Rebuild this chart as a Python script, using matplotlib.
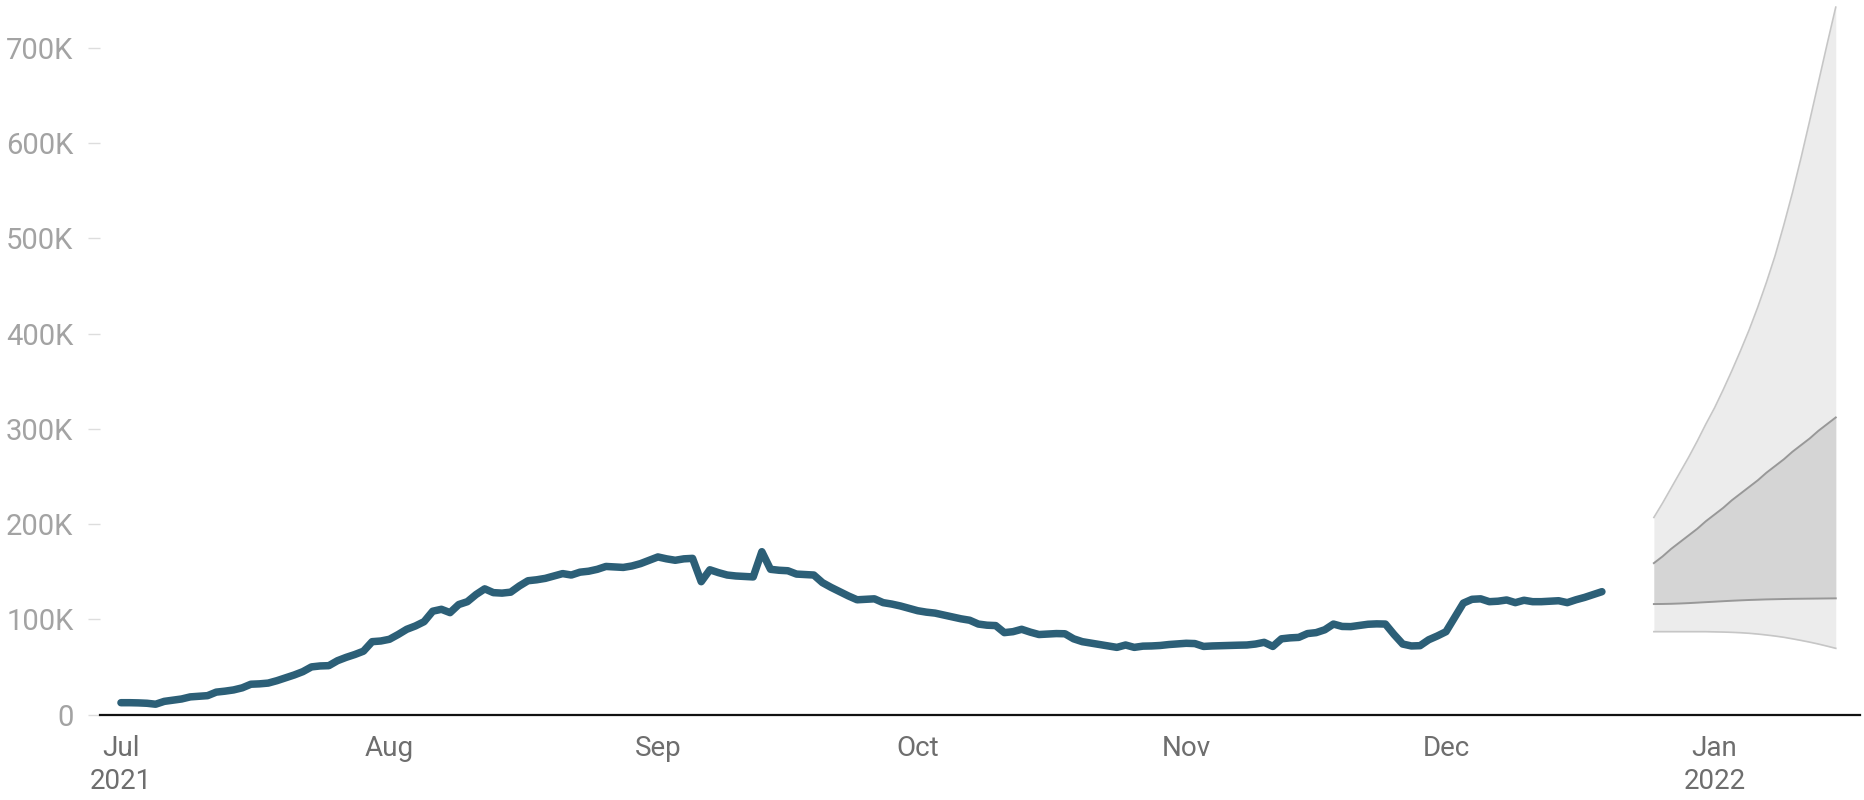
import numpy as np
import pandas as pd
import matplotlib
matplotlib.use("Agg")
import matplotlib.pyplot as plt
import matplotlib.dates as mdates

plt.rcParams['font.family'] = ['Roboto', 'DejaVu Sans']

# ---- data (values in thousands) ----
start_date = "2021-07-01"
cases = [
    12.4, 12.4, 12.2, 11.8, 10.8, 13.8, 15.0, 16.3, 18.5, 19.2,
    19.8, 23.5, 24.5, 25.8, 28.0, 31.8, 32.2, 33.0, 35.5, 38.5,
    41.5, 45.0, 50.0, 51.0, 51.3, 56.5, 60.0, 63.0, 66.5, 76.5,
    77.2, 79.0, 84.0, 89.5, 93.0, 97.5, 108.5, 110.5, 107.0, 115.5,
    118.5, 126.0, 132.0, 128.0, 127.5, 128.5, 135.0, 140.5, 141.5, 143.0,
    145.5, 148.0, 146.5, 149.5, 150.5, 152.5, 155.5, 155.0, 154.5, 156.0,
    158.5, 162.0, 165.5, 163.5, 162.0, 163.5, 164.0, 139.5, 152.0, 149.0,
    146.5, 145.5, 145.0, 144.5, 171.0, 152.5, 151.5, 151.0, 147.5, 147.0,
    146.5, 138.5, 133.5, 129.0, 124.5, 120.5, 121.0, 121.5, 117.5, 116.0,
    114.0, 111.5, 109.0, 107.5, 106.5, 104.5, 102.5, 100.5, 99.0, 95.0,
    93.8, 93.4, 86.0, 87.0, 89.5, 86.5, 84.0, 84.5, 85.0, 84.8,
    79.5, 76.5, 75.0, 73.5, 72.0, 70.5, 73.0, 70.5, 71.8, 72.0,
    72.5, 73.5, 74.2, 74.8, 74.5, 71.5, 72.0, 72.3, 72.5, 72.8,
    73.0, 74.0, 75.8, 71.5, 79.5, 80.5, 81.0, 85.0, 86.0, 89.0,
    95.0, 92.5, 92.3, 93.5, 94.8, 95.2, 95.0, 84.0, 74.0, 72.0,
    72.3, 78.5, 82.5, 87.0, 102.0, 117.0, 121.0, 121.5, 118.5, 119.0,
    120.3, 117.5, 120.0, 118.5, 118.5, 119.0, 119.5, 117.5, 120.5, 123.0,
    126.0, 129.0,
]

forecast_start = "2021-12-25"
outer_upper = [207, 222, 238, 254, 270, 287, 305, 322, 341, 361, 382,
               404, 428, 454, 482, 514, 548, 585, 624, 664, 704, 743]
inner_upper = [159, 166, 174, 181, 188, 195, 203, 210, 217, 225, 232,
               239, 246, 254, 261, 268, 276, 283, 290, 298, 305, 312]
inner_lower = [116.0, 116.1, 116.3, 116.6, 117.0, 117.5, 118.0, 118.5, 119.0, 119.5, 119.9,
               120.3, 120.6, 120.9, 121.1, 121.3, 121.5, 121.6, 121.7, 121.8, 121.9, 122.0]
outer_lower = [87.0, 87.0, 87.0, 87.0, 87.0, 87.0, 87.0, 86.8, 86.6, 86.3, 85.9,
               85.3, 84.5, 83.5, 82.4, 81.1, 79.5, 77.8, 76.0, 74.0, 71.8, 69.5]

month_ticks = ["2021-07-01", "2021-08-01", "2021-09-01", "2021-10-01",
               "2021-11-01", "2021-12-01", "2022-01-01"]
month_labels = ["Jul\n2021", "Aug", "Sep", "Oct", "Nov", "Dec", "Jan\n2022"]
y_ticks = [0, 100, 200, 300, 400, 500, 600, 700]
y_labels = ["0", "100K", "200K", "300K", "400K", "500K", "600K", "700K"]

# ---- plotting ----
dates = pd.date_range(start_date, periods=len(cases), freq="D")
fdates = pd.date_range(forecast_start, periods=len(outer_upper), freq="D")

fig = plt.figure(figsize=(18.65, 8.0), dpi=100)
ax = fig.add_axes([100 / 1865, (800 - 714.5) / 800, 1760 / 1865, 714.5 / 800])

ax.fill_between(fdates, outer_lower, outer_upper, color="#ececec", lw=0, zorder=1)
ax.fill_between(fdates, inner_lower, inner_upper, color="#d5d5d5", lw=0, zorder=2)
ax.plot(fdates, outer_upper, color="#c6c6c6", lw=1.2, zorder=3)
ax.plot(fdates, outer_lower, color="#c6c6c6", lw=1.2, zorder=3)
ax.plot(fdates, inner_upper, color="#989898", lw=1.4, zorder=3)
ax.plot(fdates, inner_lower, color="#989898", lw=1.4, zorder=3)

ax.plot(dates, cases, color="#2c5f77", lw=5.4, solid_capstyle="round",
        solid_joinstyle="round", zorder=4)

t0 = mdates.date2num(pd.Timestamp(start_date))
ax.set_xlim(t0 - 2.42, t0 + 200.8)
ax.set_ylim(0, 750.5)

for s in ["top", "right", "left"]:
    ax.spines[s].set_visible(False)
ax.spines["bottom"].set_color("#111111")
ax.spines["bottom"].set_linewidth(1.6)

ax.set_yticks(y_ticks)
ax.set_yticklabels(y_labels)
ax.tick_params(axis="y", length=8.6, width=1.0, color="#dddddd", pad=10.5,
               labelsize=21, labelcolor="#a3a3a3")

ax.set_xticks(pd.to_datetime(month_ticks))
ax.set_xticklabels(month_labels, linespacing=1.25)
ax.tick_params(axis="x", length=0, pad=15, labelsize=20, labelcolor="#6e6e6e")

fig.savefig("out.png", dpi=100, facecolor="white")
